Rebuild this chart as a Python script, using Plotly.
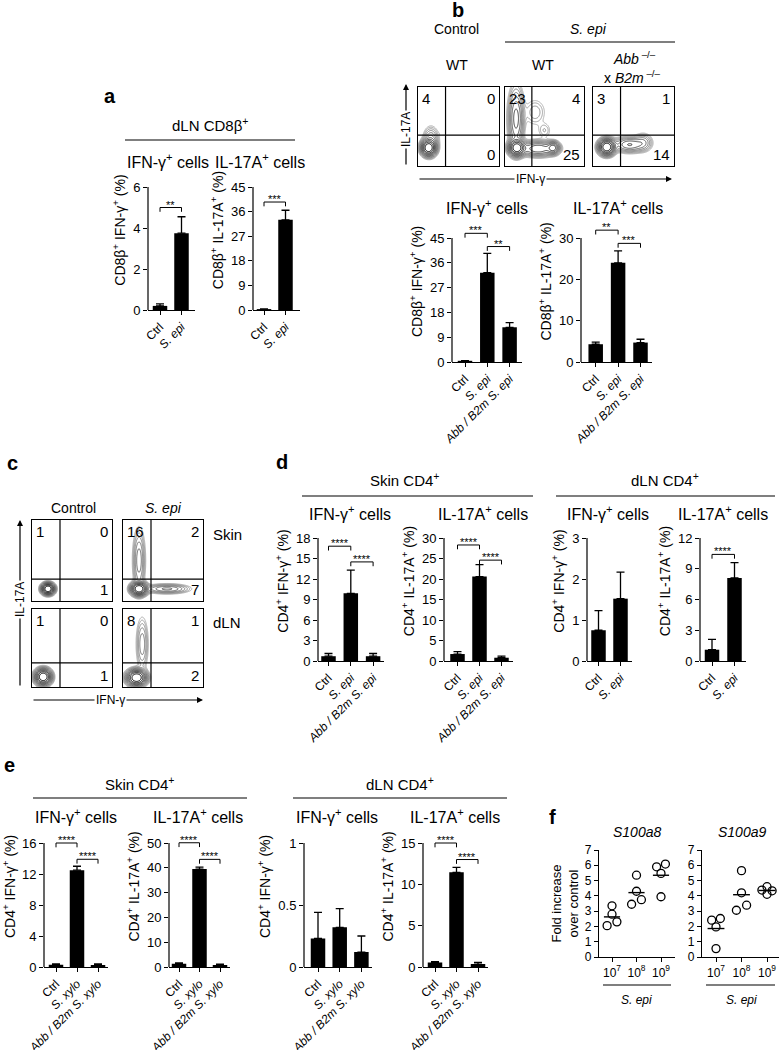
import numpy as np
import plotly.graph_objects as go

W, H = 781, 1050
FONT = "Arial, Liberation Sans, sans-serif"

# ---------------- DATA ----------------
# panel a (dLN CD8b+)
a_cats = ["Ctrl", "<i>S. epi</i>"]
a_ifn = [0.2, 3.75]
a_ifn_err = [0.1, 0.8]
a_il17 = [0.3, 33.0]
a_il17_err = [0.1, 3.5]
a_ifn_ticks = [0, 2, 4, 6]
a_il17_ticks = [0, 9, 18, 27, 36, 45]
a_ifn_sig = [(0, 1, 5.0, "**")]
a_il17_sig = [(0, 1, 39.5, "***")]

# panel b
b_cats = ["Ctrl", "<i>S. epi</i>", "<i>Abb / B2m</i> <i>S. epi</i>"]
b_ifn = [0.3, 32.4, 12.6]
b_ifn_err = [0.2, 7.0, 1.7]
b_il17 = [4.3, 24.0, 4.7]
b_il17_err = [0.5, 2.9, 0.8]
b_ifn_ticks = [0, 9, 18, 27, 36, 45]
b_il17_ticks = [0, 10, 20, 30]
b_ifn_sig = [(0, 1, 46.7, "***"), (1, 2, 41.9, "**")]
b_il17_sig = [(0, 1, 31.9, "**"), (1, 2, 28.7, "***")]
b_flow_nums = [("4", "0", "0"), ("23", "4", "25"), ("3", "1", "14")]
# density blobs (x, y, sx, sy, weight) in gate units 0..1
b_flow_blobs = [
    [(0.13, 0.23, 0.045, 0.05, 1.0), (0.16, 0.32, 0.05, 0.09, 0.12), (0.3, 0.42, 0.03, 0.04, 0.01)],
    [(0.15, 0.23, 0.05, 0.05, 1.0), (0.42, 0.22, 0.12, 0.05, 0.3), (0.61, 0.23, 0.04, 0.04, 0.35),
     (0.14, 0.6, 0.05, 0.2, 0.25), (0.38, 0.68, 0.08, 0.1, 0.04), (0.5, 0.45, 0.05, 0.06, 0.03)],
    [(0.17, 0.24, 0.05, 0.05, 1.0), (0.45, 0.27, 0.1, 0.05, 0.2), (0.62, 0.3, 0.06, 0.06, 0.08)],
]

# panel c
c_flow_nums = [("1", "0", "1"), ("16", "2", "7"), ("1", "0", "1"), ("8", "1", "2")]
c_flow_blobs = [
    [(0.2, 0.15, 0.04, 0.035, 1.0)],
    [(0.2, 0.15, 0.05, 0.04, 1.0), (0.2, 0.5, 0.04, 0.2, 0.12), (0.55, 0.15, 0.14, 0.03, 0.15)],
    [(0.14, 0.13, 0.05, 0.05, 1.0)],
    [(0.17, 0.12, 0.06, 0.05, 1.0), (0.24, 0.55, 0.04, 0.18, 0.08)],
]

# panel d
d3_cats = ["Ctrl", "<i>S. epi</i>", "<i>Abb / B2m</i> <i>S. epi</i>"]
d2_cats = ["Ctrl", "<i>S. epi</i>"]
d_skin_ifn = [0.7, 9.9, 0.7]
d_skin_ifn_err = [0.4, 3.4, 0.4]
d_skin_il17 = [1.7, 20.6, 0.8]
d_skin_il17_err = [0.6, 2.9, 0.4]
d_dln_ifn = [0.75, 1.52]
d_dln_ifn_err = [0.48, 0.65]
d_dln_il17 = [1.1, 8.1]
d_dln_il17_err = [1.0, 1.5]
d_skin_ifn_ticks = [0, 3, 6, 9, 12, 15, 18]
d_skin_il17_ticks = [0, 5, 10, 15, 20, 25, 30]
d_dln_ifn_ticks = [0, 1, 2, 3]
d_dln_il17_ticks = [0, 3, 6, 9, 12]
d_skin_ifn_sig = [(0, 1, 16.8, "****"), (1, 2, 14.5, "****")]
d_skin_il17_sig = [(0, 1, 28.3, "****"), (1, 2, 24.6, "****")]
d_dln_il17_sig = [(0, 1, 10.4, "****")]

# panel e
e_cats = ["Ctrl", "<i>S. xylo</i>", "<i>Abb / B2m</i> <i>S. xylo</i>"]
e_skin_ifn = [0.3, 12.5, 0.25]
e_skin_ifn_err = [0.1, 0.5, 0.15]
e_skin_il17 = [1.3, 39.5, 0.8]
e_skin_il17_err = [0.4, 0.8, 0.3]
e_dln_ifn = [0.23, 0.32, 0.12]
e_dln_ifn_err = [0.21, 0.15, 0.13]
e_dln_il17 = [0.55, 11.45, 0.35]
e_dln_il17_err = [0.1, 0.6, 0.2]
e_skin_ifn_ticks = [0, 4, 8, 12, 16]
e_skin_il17_ticks = [0, 10, 20, 30, 40, 50]
e_dln_ifn_ticks = [0, 0.5, 1]
e_dln_il17_ticks = [0, 5, 10, 15]
e_skin_ifn_sig = [(0, 1, 16.0, "****"), (1, 2, 13.9, "****")]
e_skin_il17_sig = [(0, 1, 50.1, "****"), (1, 2, 43.4, "****")]
e_dln_il17_sig = [(0, 1, 15.0, "****"), (1, 2, 13.0, "****")]

# panel f
f_cats = ["10<sup>7</sup>", "10<sup>8</sup>", "10<sup>9</sup>"]
f_ticks = [0, 1, 2, 3, 4, 5, 6, 7]
f_s100a8 = [[3.35, 2.8, 2.3, 2.05], [5.35, 4.3, 3.75, 3.45], [6.08, 5.9, 5.47, 3.94]]
f_s100a8_dx = [[0, 0, 0.2, -0.2], [0, 0, 0.2, -0.2], [0.18, -0.18, 0, 0]]
f_s100a9 = [[2.41, 2.52, 1.97, 0.55], [5.65, 4.2, 3.39, 3.06], [4.6, 4.38, 4.33, 4.1]]
f_s100a9_dx = [[-0.17, 0.17, 0, 0], [0, 0, 0.2, -0.2], [0, -0.2, 0.2, 0]]

# ---------------- HELPERS ----------------
TICK_FS = 13
XTICK_FS = 12
YTITLE_FS = 14
SUB_FS = 16
HEAD_FS = 15

fig = go.Figure()
layout = dict(width=W, height=H, margin=dict(l=0, r=0, t=0, b=0, autoexpand=False),
              template="none",
              paper_bgcolor="white", plot_bgcolor="white", showlegend=False,
              font=dict(family=FONT, color="black", size=12))
shapes = []
annotations = []
AX = []


def px2x(p):
    return p / W


def px2y(p):
    return 1 - p / H


def add_axes(xdom, ydom, xkw, ykw):
    n = len(AX) + 1
    AX.append(n)
    xid = "x" if n == 1 else f"x{n}"
    yid = "y" if n == 1 else f"y{n}"
    layout["xaxis" if n == 1 else f"xaxis{n}"] = dict(domain=xdom, anchor=yid, automargin=False, **xkw)
    layout["yaxis" if n == 1 else f"yaxis{n}"] = dict(domain=ydom, anchor=xid, automargin=False, **ykw)
    return xid, yid


def txt(x, y, text, size=15, xanchor="center", yanchor="middle", textangle=0, **kw):
    annotations.append(dict(x=px2x(x), y=px2y(y), xref="paper", yref="paper", text=text,
                            showarrow=False, xanchor=xanchor, yanchor=yanchor,
                            textangle=textangle, font=dict(size=size, family=FONT, color="black"), **kw))


def hline(x0, x1, y, width=1.2):
    shapes.append(dict(type="line", xref="paper", yref="paper", x0=px2x(x0), x1=px2x(x1),
                       y0=px2y(y), y1=px2y(y), line=dict(color="black", width=width)))


def bar_chart(geom, cats, vals, errs, yticks, ytitle, sigs, ext=1.3, ticktext=None):
    left, right, c0, sp, y0, ytp, ytv = geom
    top_px = y0 - (y0 - ytp) * ext
    n = len(cats)
    xid, yid = add_axes(
        [px2x(left), px2x(right)], [px2y(y0), px2y(top_px)],
        dict(range=[(left - c0) / sp, (right - c0) / sp], showline=True, linecolor="black",
             linewidth=1.2, ticks="outside", ticklen=4, tickwidth=1.2, tickcolor="black",
             tickvals=list(range(n)), ticktext=cats, tickangle=-45, showgrid=False,
             zeroline=False, tickfont=dict(size=XTICK_FS), fixedrange=True),
        dict(range=[0, ytv * ext], showline=False, ticks="outside", ticklen=4, tickwidth=1.2,
             tickcolor="black", tickvals=yticks,
             ticktext=ticktext if ticktext else [str(t) for t in yticks],
             showgrid=False, zeroline=False, tickfont=dict(size=TICK_FS), fixedrange=True,
             title=dict(text=ytitle, font=dict(size=YTITLE_FS), standoff=4)))
    fig.add_trace(go.Bar(x=list(range(n)), y=vals, width=14.5 / sp, marker=dict(color="black", line=dict(width=0)),
                         error_y=dict(type="data", array=errs, arrayminus=[0] * n, symmetric=False,
                                      color="black", thickness=1.3, width=4),
                         xaxis=xid, yaxis=yid))
    shapes.append(dict(type="line", xref=f"{xid} domain", yref=yid, x0=0, x1=0, y0=0, y1=yticks[-1],
                       line=dict(color="black", width=1.2)))
    h = ytv * 0.035
    for i, j, yv, lab in sigs:
        shapes.append(dict(type="path", xref=xid, yref=yid,
                           path=f"M {i},{yv - h} L {i},{yv} L {j},{yv} L {j},{yv - h}",
                           line=dict(color="black", width=1)))
        annotations.append(dict(x=(i + j) / 2, y=yv, xref=xid, yref=yid, text=lab, showarrow=False,
                                yanchor="bottom", yshift=-5, font=dict(size=11, family=FONT, color="black")))
    return xid, yid


flow_ax = dict(range=[0, 1], showline=True, mirror=True, linecolor="black", linewidth=1.2,
               ticks="", showticklabels=False, showgrid=False, zeroline=False, fixedrange=True)
grid = np.linspace(0, 1, 140)
GX, GY = np.meshgrid(grid, grid)


def flow_plot(box, gx, gy, blobs, nums):
    l, r, t, b = box
    xid, yid = add_axes([px2x(l), px2x(r)], [px2y(b), px2y(t)], dict(flow_ax), dict(flow_ax))
    d = np.zeros_like(GX)
    for cx, cy, sx, sy, w in blobs:
        d += w * np.exp(-((GX - cx) ** 2 / (2 * sx ** 2) + (GY - cy) ** 2 / (2 * sy ** 2)))
    d = d / d.max()
    z = np.log10(d + 1e-6)
    fig.add_trace(go.Contour(x=grid, y=grid, z=z, xaxis=xid, yaxis=yid, showscale=False,
                             contours=dict(coloring="lines", start=-1.9, end=-0.05, size=0.17),
                             line=dict(width=1.0), hoverinfo="skip",
                             colorscale=[[0, "#b0b0b0"], [0.5, "#606060"], [1, "#000000"]]))
    shapes.append(dict(type="line", xref=xid, yref=f"{yid} domain", x0=gx, x1=gx, y0=0, y1=1,
                       line=dict(color="black", width=1.2)))
    shapes.append(dict(type="line", xref=f"{xid} domain", yref=yid, x0=0, x1=1, y0=gy, y1=gy,
                       line=dict(color="black", width=1.2)))
    tl, tr, br = nums
    fnt = dict(size=15, family=FONT, color="black")
    annotations.append(dict(x=0.02, y=0.99, xref=f"{xid} domain", yref=f"{yid} domain", text=tl,
                            showarrow=False, xanchor="left", yanchor="top", font=fnt))
    annotations.append(dict(x=0.98, y=0.99, xref=f"{xid} domain", yref=f"{yid} domain", text=tr,
                            showarrow=False, xanchor="right", yanchor="top", font=fnt))
    annotations.append(dict(x=0.98, y=0.01, xref=f"{xid} domain", yref=f"{yid} domain", text=br,
                            showarrow=False, xanchor="right", yanchor="bottom", font=fnt))


def arrow(x_head, y_head, x_tail, y_tail):
    annotations.append(dict(x=px2x(x_head), y=px2y(y_head), xref="paper", yref="paper", text="",
                            showarrow=True, arrowhead=2, arrowsize=1, arrowwidth=1.2, arrowcolor="black",
                            ax=x_tail - x_head, ay=y_tail - y_head, axref="pixel", ayref="pixel"))


# ---------------- PANEL a ----------------
txt(110, 96, "<b>a</b>", size=20)
txt(210, 124, "dLN CD8β<sup>+</sup>", size=HEAD_FS)
hline(125, 295, 140)
txt(168, 161, "IFN-γ<sup>+</sup> cells", size=SUB_FS)
txt(260, 161, "IL-17A<sup>+</sup> cells", size=SUB_FS)
bar_chart((148, 195, 160, 21.5, 310, 187, 6), a_cats, a_ifn, a_ifn_err, a_ifn_ticks,
          "CD8β<sup>+</sup> IFN-γ<sup>+</sup> (%)", a_ifn_sig)
bar_chart((253, 300, 264, 21.5, 310, 187, 45), a_cats, a_il17, a_il17_err, a_il17_ticks,
          "CD8β<sup>+</sup> IL-17A<sup>+</sup> (%)", a_il17_sig)

# ---------------- PANEL b ----------------
txt(458, 10, "<b>b</b>", size=20)
txt(457, 29, "Control", size=14)
txt(588, 29, "<i>S. epi</i>", size=14)
hline(505, 675, 42)
txt(457, 65, "WT", size=14)
txt(543, 65, "WT", size=14)
txt(634, 58, "<i>Abb</i><sup> –/–</sup>", size=14)
txt(632, 77, "x <i>B2m</i><sup> –/–</sup>", size=14)
b_boxes = [(418, 499, 87, 166), (505, 584, 87, 166), (593, 674, 87, 166)]
for bx, blobs, nums in zip(b_boxes, b_flow_blobs, b_flow_nums):
    flow_plot(bx, 0.34, 0.39, blobs, nums)
arrow(672, 179, 418, 179)
txt(530, 179, "IFN-γ", size=12, bgcolor="white")
arrow(406, 84, 406, 166)
txt(406, 130, "IL-17A", size=12, textangle=-90, bgcolor="white")
txt(487, 207, "IFN-γ<sup>+</sup> cells", size=SUB_FS)
txt(618, 207, "IL-17A<sup>+</sup> cells", size=SUB_FS)
bar_chart((452, 522, 465, 22.3, 362, 238, 45), b_cats, b_ifn, b_ifn_err, b_ifn_ticks,
          "CD8β<sup>+</sup> IFN-γ<sup>+</sup> (%)", b_ifn_sig)
bar_chart((581, 652, 595.7, 22.4, 362, 238, 30), b_cats, b_il17, b_il17_err, b_il17_ticks,
          "CD8β<sup>+</sup> IL-17A<sup>+</sup> (%)", b_il17_sig)

# ---------------- PANEL c ----------------
txt(12, 463, "<b>c</b>", size=20)
txt(73, 508, "Control", size=14)
txt(163, 508, "<i>S. epi</i>", size=14)
c_boxes = [(32, 112, 520, 601), (123, 203, 520, 601), (32, 112, 609, 687), (123, 203, 609, 687)]
c_gy = [0.27, 0.27, 0.31, 0.31]
for bx, gyv, blobs, nums in zip(c_boxes, c_gy, c_flow_blobs, c_flow_nums):
    flow_plot(bx, 0.35, gyv, blobs, nums)
txt(211, 534, "Skin", size=15, xanchor="left")
txt(211, 622, "dLN", size=15, xanchor="left")
arrow(20, 520, 20, 687)
txt(20, 600, "IL-17A", size=12, textangle=-90, bgcolor="white")
arrow(203, 700, 32, 700)
txt(110, 700, "IFN-γ", size=12, bgcolor="white")

# ---------------- PANEL d ----------------
txt(282, 462, "<b>d</b>", size=20)
txt(405, 480, "Skin CD4<sup>+</sup>", size=HEAD_FS)
hline(302, 533, 496)
txt(665, 480, "dLN CD4<sup>+</sup>", size=HEAD_FS)
hline(556, 775, 496)
txt(350, 513, "IFN-γ<sup>+</sup> cells", size=SUB_FS)
txt(483, 513, "IL-17A<sup>+</sup> cells", size=SUB_FS)
txt(608, 513, "IFN-γ<sup>+</sup> cells", size=SUB_FS)
txt(723, 513, "IL-17A<sup>+</sup> cells", size=SUB_FS)
bar_chart((318, 384, 328.5, 22.3, 661, 538, 18), d3_cats, d_skin_ifn, d_skin_ifn_err, d_skin_ifn_ticks,
          "CD4<sup>+</sup> IFN-γ<sup>+</sup> (%)", d_skin_ifn_sig)
bar_chart((444, 513, 457.5, 22.0, 661, 538, 30), d3_cats, d_skin_il17, d_skin_il17_err, d_skin_il17_ticks,
          "CD4<sup>+</sup> IL-17A<sup>+</sup> (%)", d_skin_il17_sig)
bar_chart((587, 632, 598.5, 22.0, 661, 538, 3), d2_cats, d_dln_ifn, d_dln_ifn_err, d_dln_ifn_ticks,
          "CD4<sup>+</sup> IFN-γ<sup>+</sup> (%)", [])
bar_chart((700, 746, 712, 22.5, 661, 538, 12), d2_cats, d_dln_il17, d_dln_il17_err, d_dln_il17_ticks,
          "CD4<sup>+</sup> IL-17A<sup>+</sup> (%)", d_dln_il17_sig)

# ---------------- PANEL e ----------------
txt(9, 765, "<b>e</b>", size=20)
txt(140, 783, "Skin CD4<sup>+</sup>", size=HEAD_FS)
hline(33, 247, 798)
txt(400, 783, "dLN CD4<sup>+</sup>", size=HEAD_FS)
hline(293, 507, 798)
txt(76, 816, "IFN-γ<sup>+</sup> cells", size=SUB_FS)
txt(198, 816, "IL-17A<sup>+</sup> cells", size=SUB_FS)
txt(337, 816, "IFN-γ<sup>+</sup> cells", size=SUB_FS)
txt(455, 816, "IL-17A<sup>+</sup> cells", size=SUB_FS)
bar_chart((44, 108, 56, 21.0, 967, 843, 16), e_cats, e_skin_ifn, e_skin_ifn_err, e_skin_ifn_ticks,
          "CD4<sup>+</sup> IFN-γ<sup>+</sup> (%)", e_skin_ifn_sig)
bar_chart((169, 230, 179, 20.5, 967, 843, 50), e_cats, e_skin_il17, e_skin_il17_err, e_skin_il17_ticks,
          "CD4<sup>+</sup> IL-17A<sup>+</sup> (%)", e_skin_il17_sig)
bar_chart((304, 372, 318, 21.7, 967, 843, 1), e_cats, e_dln_ifn, e_dln_ifn_err, e_dln_ifn_ticks,
          "CD4<sup>+</sup> IFN-γ<sup>+</sup> (%)", [], ticktext=["0", "0.5", "1"])
bar_chart((423, 488, 435, 21.5, 967, 843, 15), e_cats, e_dln_il17, e_dln_il17_err, e_dln_il17_ticks,
          "CD4<sup>+</sup> IL-17A<sup>+</sup> (%)", e_dln_il17_sig)

# ---------------- PANEL f ----------------
txt(552, 817, "<b>f</b>", size=20)


def dot_chart(geom, pts, dxs, title, ytitle):
    left, right, c0, sp, y0, ytp = geom
    xid, yid = add_axes(
        [px2x(left), px2x(right)], [px2y(y0), px2y(ytp)],
        dict(range=[(left - c0) / sp, (right - c0) / sp], showline=True, linecolor="black", linewidth=1.2,
             ticks="outside", ticklen=4, tickwidth=1.2, tickcolor="black", tickvals=[0, 1, 2],
             ticktext=f_cats, showgrid=False, zeroline=False, tickfont=dict(size=12), fixedrange=True),
        dict(range=[0, 7], showline=True, linecolor="black", linewidth=1.2, ticks="outside", ticklen=4,
             tickwidth=1.2, tickcolor="black", tickvals=f_ticks, showgrid=False, zeroline=False,
             tickfont=dict(size=12), fixedrange=True,
             title=dict(text=ytitle, font=dict(size=13), standoff=3)))
    xs, ys = [], []
    for k, (grp, dg) in enumerate(zip(pts, dxs)):
        for v, dx in zip(grp, dg):
            xs.append(k + dx)
            ys.append(v)
        m = float(np.mean(grp))
        fig.add_trace(go.Scatter(x=[k - 0.33, k + 0.33], y=[m, m], mode="lines",
                                 line=dict(color="black", width=1.4), xaxis=xid, yaxis=yid, hoverinfo="skip"))
    fig.add_trace(go.Scatter(x=xs, y=ys, mode="markers", cliponaxis=False,
                             marker=dict(symbol="circle-open", size=8, color="black", line=dict(width=1.3)),
                             xaxis=xid, yaxis=yid))
    txt(c0 + sp, 832, f"<i>{title}</i>", size=14)
    hline(left + 4, right - 4, 985)
    txt(c0 + sp, 1000, "<i>S. epi</i>", size=12)


dot_chart((599, 675, 612, 24.5, 957, 850), f_s100a8, f_s100a8_dx, "S100a8", "Fold increase<br>over control")
dot_chart((702, 779, 716, 25.5, 957, 850), f_s100a9, f_s100a9_dx, "S100a9", "")

layout["shapes"] = shapes
layout["annotations"] = annotations
fig.update_layout(**layout)
fig.write_html("out.html", config={"displayModeBar": False, "staticPlot": False},
               post_script="document.body.style.margin='0';document.body.style.padding='0';"
                           "document.body.style.overflow='hidden';"
                           "document.documentElement.style.overflow='hidden';")
